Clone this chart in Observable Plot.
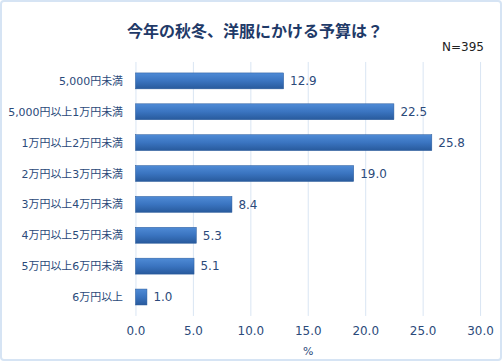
<!DOCTYPE html>
<html>
<head>
<meta charset="utf-8">
<script src="https://cdn.jsdelivr.net/npm/d3@7"></script>
<script src="https://cdn.jsdelivr.net/npm/@observablehq/plot@0.6"></script>
<style>
  html, body { margin: 0; padding: 0; background: #fff; }
  #wrap { position: relative; width: 502px; height: 361px; box-sizing: border-box; border: 2px solid #d6e4f4; border-radius: 4px; background: #fff; font-family: "DejaVu Sans", "Noto Sans CJK JP", sans-serif; overflow: hidden; }
  #title { position: absolute; left: 4px; width: 498px; top: 16px; text-align: center; font-size: 16px; font-weight: bold; color: #1f3a68; font-family: "DejaVu Sans", "Noto Sans CJK JP", sans-serif; }
  #n { position: absolute; right: 16px; top: 38px; font-size: 12px; color: #222; }
  #chart { position: absolute; left: -2px; top: 52px; }
</style>
</head>
<body>
<div id="wrap">
  <div id="title">今年の秋冬、洋服にかける予算は？</div>
  <div id="n">N=395</div>
  <div id="chart"></div>
</div>
<script>
const categories = ["5,000円未満", "5,000円以上1万円未満", "1万円以上2万円未満", "2万円以上3万円未満", "3万円以上4万円未満", "4万円以上5万円未満", "5万円以上6万円未満", "6万円以上"];
const values = [12.9, 22.5, 25.8, 19.0, 8.4, 5.3, 5.1, 1.0];
const xTicks = [0, 5, 10, 15, 20, 25, 30];
const xLabel = "%";

const data = categories.map((c, i) => ({category: c, value: values[i]}));
const textColor = "#2b4a7a";

const plot = Plot.plot({
  width: 502,
  height: 306,
  marginLeft: 136,
  marginRight: 20,
  marginTop: 8,
  marginBottom: 43,
  style: {fontFamily: "'DejaVu Sans', 'Noto Sans CJK JP', sans-serif", fontSize: "11px", color: textColor, background: "transparent"},
  x: {domain: [0, 30], label: null},
  y: {domain: categories, paddingInner: 0.5, paddingOuter: 0.25, label: null},
  marks: [
    Plot.gridX(xTicks, {stroke: "#d9e5f3", strokeOpacity: 1, strokeWidth: 1}),
    Plot.barX(data, {x: "value", y: "category", fill: "url(#barGrad)", stroke: "#2a5a9a", strokeWidth: 0.5}),
    Plot.text(data, {x: "value", y: "category", text: d => d.value.toFixed(1), textAnchor: "start", dx: 6, fill: textColor, fontSize: 12}),
    Plot.axisY({tickSize: 0, tickPadding: 13, fontSize: 11, label: null}),
    Plot.axisX({ticks: xTicks, tickFormat: d => d.toFixed(1), tickSize: 0, tickPadding: 10, fontSize: 12, label: null}),
    Plot.text([xLabel], {frameAnchor: "bottom", dy: 39, fill: textColor, fontSize: 11})
  ]
});

const ns = "http://www.w3.org/2000/svg";
const defs = document.createElementNS(ns, "defs");
defs.innerHTML = `<linearGradient id="barGrad" x1="0" y1="0" x2="0" y2="1">
  <stop offset="0" stop-color="#4f8bd6"/>
  <stop offset="0.5" stop-color="#3a74c0"/>
  <stop offset="1" stop-color="#285a9c"/>
</linearGradient>`;
plot.insertBefore(defs, plot.firstChild);
document.getElementById("chart").appendChild(plot);
</script>
</body>
</html>
